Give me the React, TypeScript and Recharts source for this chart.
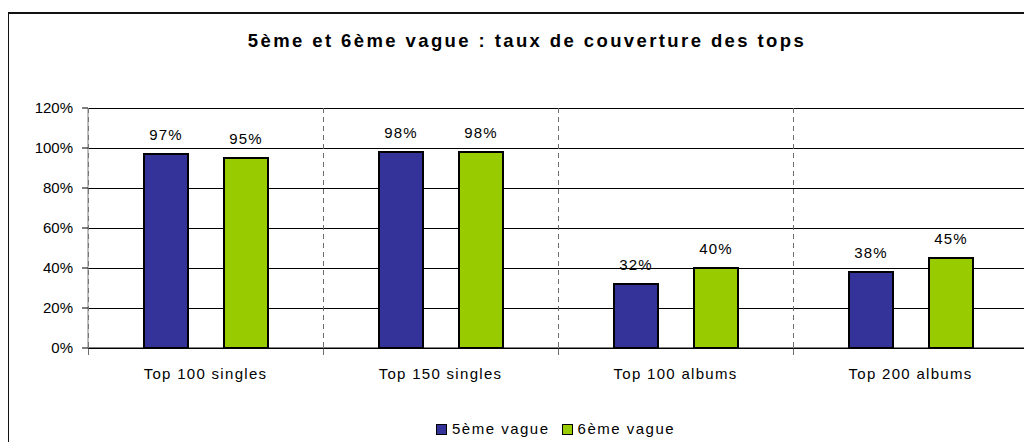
import React from 'react';
import { BarChart, Bar, XAxis, YAxis, CartesianGrid, LabelList, ReferenceLine } from 'recharts';

const categories = ['Top 100 singles', 'Top 150 singles', 'Top 100 albums', 'Top 200 albums'];
const vague5 = [0.97, 0.98, 0.32, 0.38];
const vague6 = [0.95, 0.98, 0.4, 0.45];
const seriesNames = ['5ème vague', '6ème vague'];
const seriesColors = ['#333399', '#99CC00'];
const yTicks = [0, 0.2, 0.4, 0.6, 0.8, 1.0, 1.2];
const title = '5ème et 6ème vague : taux de couverture des tops';

const FONT = '"Liberation Sans", Arial, sans-serif';

const chartData = categories.map((name, i) => ({
  name,
  v5: vague5[i],
  v6: vague6[i],
}));

const pct = (v: any) => `${Math.round(Number(v) * 100)}%`;

// dashed separators sit on the category boundaries, not on the tick centres
const boundaryLines = ({ offset }: any) =>
  [0, 1, 2, 3, 4].map((k) => offset.left + (offset.width * k) / categories.length);

// small tick marks under the axis at each boundary
const boundaryMarks = [
  ...categories.map((c) => ({ x: c, pos: 'start' as const })),
  { x: categories[categories.length - 1], pos: 'end' as const },
];

const App: React.FC = () => {
  return (
    <div
      style={{
        position: 'relative',
        marginLeft: -8,
        marginTop: -8,
        width: 1032,
        height: 442,
        overflow: 'hidden',
        background: '#fff',
        fontFamily: FONT,
      }}
    >
      {/* outer frame, clipped on the right and bottom like the original */}
      <div
        style={{
          position: 'absolute',
          left: 7,
          top: 12,
          width: 1100,
          height: 600,
          border: '2px solid #111',
          boxSizing: 'border-box',
        }}
      />
      <div
        style={{
          position: 'absolute',
          left: 0,
          width: 1054,
          top: 30,
          textAlign: 'center',
          fontWeight: 'bold',
          fontSize: 18.5,
          letterSpacing: 2.4,
          color: '#000',
        }}
      >
        {title}
      </div>
      <div style={{ position: 'absolute', left: 0, top: 0 }}>
        <BarChart
          width={1032}
          height={442}
          data={chartData}
          margin={{ top: 108, right: 4, left: 0, bottom: 54 }}
          barSize={44}
          barGap={36}
        >
          <XAxis
            dataKey="name"
            height={40}
            tickLine={false}
            tickSize={0}
            tickMargin={20}
            axisLine={{ stroke: '#000' }}
            tick={{ fontSize: 15, fill: '#000', fontFamily: FONT, letterSpacing: 1.3 }}
          />
          <YAxis
            width={88}
            domain={[0, 1.2]}
            ticks={yTicks}
            tickFormatter={pct}
            tickSize={6}
            tickMargin={9}
            axisLine={{ stroke: '#808080' }}
            tickLine={{ stroke: '#000' }}
            tick={{ fontSize: 15, fill: '#000', fontFamily: FONT }}
          />
          <CartesianGrid vertical={false} stroke="#000" shapeRendering="crispEdges" />
          <CartesianGrid
            horizontal={false}
            stroke="#6e6e6e"
            strokeDasharray="5 4"
            shapeRendering="crispEdges"
            verticalCoordinatesGenerator={boundaryLines}
          />
          {boundaryMarks.map((m, i) => (
            <ReferenceLine
              key={i}
              segment={[{ x: m.x, y: 0 }, { x: m.x, y: -0.035 }]}
              position={m.pos}
              ifOverflow="visible"
              stroke="#6e6e6e"
              shapeRendering="crispEdges"
            />
          ))}
          <Bar dataKey="v5" fill={seriesColors[0]} stroke="#000" strokeWidth={2} isAnimationActive={false}>
            <LabelList dataKey="v5" position="top" offset={14} formatter={pct} style={{ fontSize: 15, fill: '#000', fontFamily: FONT, letterSpacing: 1.2 }} />
          </Bar>
          <Bar dataKey="v6" fill={seriesColors[1]} stroke="#000" strokeWidth={2} isAnimationActive={false}>
            <LabelList dataKey="v6" position="top" offset={14} formatter={pct} style={{ fontSize: 15, fill: '#000', fontFamily: FONT, letterSpacing: 1.2 }} />
          </Bar>
        </BarChart>
      </div>
      {/* legend */}
      <div
        style={{
          position: 'absolute',
          left: 436,
          top: 420,
          display: 'flex',
          alignItems: 'center',
          fontSize: 15,
          letterSpacing: 1.5,
          color: '#000',
          lineHeight: '18px',
        }}
      >
        {seriesNames.map((n, i) => (
          <div key={n} style={{ display: 'flex', alignItems: 'center', marginRight: 12 }}>
            <span
              style={{
                display: 'inline-block',
                width: 9,
                height: 9,
                background: seriesColors[i],
                border: '1px solid #000',
                marginRight: 5,
              }}
            />
            <span>{n}</span>
          </div>
        ))}
      </div>
    </div>
  );
};

export default App;
